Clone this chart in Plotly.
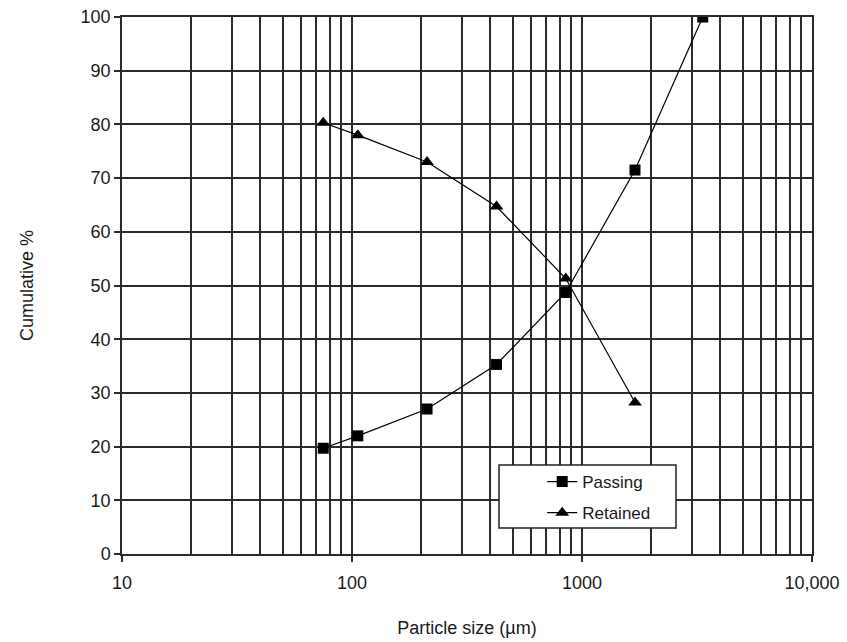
import plotly.graph_objects as go

# Sieve analysis: particle size (µm) vs cumulative percentage
passing_size = [75, 106, 212, 425, 850, 1700, 3350]
passing_pct = [19.7, 22.0, 27.0, 35.3, 48.7, 71.5, 100.0]

retained_size = [75, 106, 212, 425, 850, 1700]
retained_pct = [80.3, 78.0, 73.0, 64.7, 51.3, 28.2]

x_tickvals = [10, 100, 1000, 10000]
x_ticktext = ["10", "100", "1000", "10,000"]
y_tickvals = list(range(0, 101, 10))

FONT = "Liberation Sans, Arial, Helvetica, sans-serif"
GRID = "#2b2b2b"

fig = go.Figure()
fig.add_trace(go.Scatter(
    x=passing_size, y=passing_pct, name="Passing", mode="lines+markers",
    legendgroup="p",
    line=dict(color="black", width=1.2),
    marker=dict(symbol="square", size=11, color="black"),
))
fig.add_trace(go.Scatter(
    x=retained_size, y=retained_pct, name="Retained", mode="lines+markers",
    legendgroup="r",
    line=dict(color="black", width=1.2),
    marker=dict(symbol="triangle-up", size=12, color="black"),
))

# framed white panel behind the legend entries
fig.add_shape(
    type="rect", xref="paper", yref="paper",
    x0=0.5464, x1=0.8029, y0=0.0484, y1=0.1657,
    fillcolor="white", line=dict(color="#222", width=1.5), layer="above",
)

fig.update_layout(
    width=847, height=642,
    margin=dict(l=122, r=35, t=17, b=88, autoexpand=False),
    paper_bgcolor="white", plot_bgcolor="white",
    font=dict(family=FONT, size=18, color="#1a1a1a"),
    showlegend=True,
    legend=dict(
        x=0.609, y=0.1676, xanchor="left", yanchor="top",
        bgcolor="rgba(0,0,0,0)", borderwidth=0,
        font=dict(size=17), tracegroupgap=6,
    ),
    xaxis=dict(
        type="log", range=[1, 4], automargin=False,
        tickvals=x_tickvals, ticktext=x_ticktext,
        ticks="outside", ticklen=6, tickwidth=1.5, tickcolor=GRID,
        ticklabelstandoff=6,
        showgrid=True, gridcolor=GRID, gridwidth=1.5,
        minor=dict(dtick="D1", showgrid=True, gridcolor=GRID, gridwidth=1.5, ticks=""),
        showline=True, linecolor=GRID, linewidth=1.5, mirror=True,
        tickfont=dict(size=18),
        title=dict(text="Particle size (µm)", font=dict(size=18), standoff=29),
        zeroline=False,
    ),
    yaxis=dict(
        range=[0, 100], tickvals=y_tickvals, automargin=False,
        ticks="outside", ticklen=6, tickwidth=1.5, tickcolor=GRID,
        showgrid=True, gridcolor=GRID, gridwidth=1.5,
        showline=True, linecolor=GRID, linewidth=1.5, mirror=True,
        tickfont=dict(size=18),
        title=dict(text="Cumulative %", font=dict(size=18), standoff=42),
        zeroline=False,
    ),
)

fig.write_html("out.html")
